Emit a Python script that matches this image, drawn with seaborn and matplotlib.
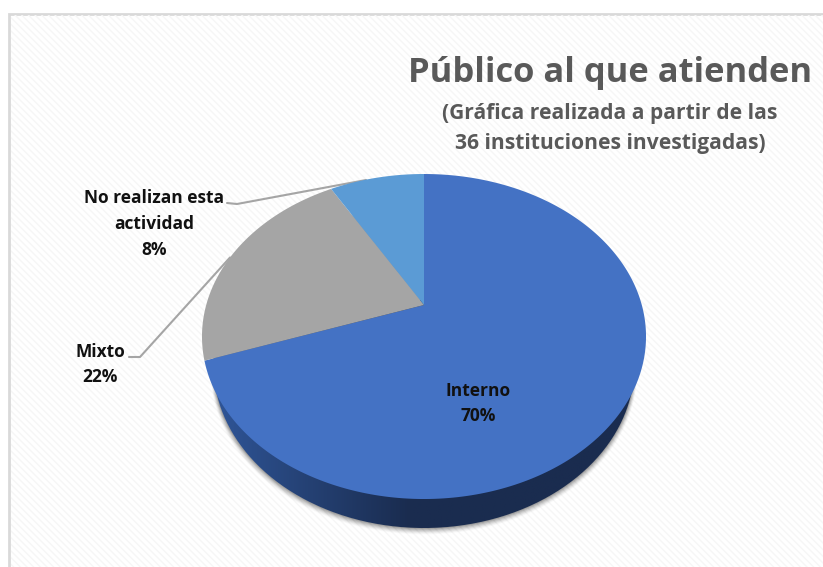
import numpy as np
import matplotlib
matplotlib.use("Agg")
import matplotlib.pyplot as plt
from matplotlib.colors import to_rgb
from matplotlib.path import Path
from matplotlib.patches import Rectangle, PathPatch
from matplotlib.transforms import Transform, Affine2D
import seaborn as sns

categorias = ["Interno", "Mixto", "No realizan esta\nactividad"]
porcentajes = [69.6, 22.1, 8.3]  # slice sizes as measured
etiquetas = [70, 22, 8]  # what the labels print
colores = ["#4472c4", "#a5a5a5", "#5b9bd5"]
titulo = "Público al que atienden"
subtitulo = "(Gráfica realizada a partir de las\n36 instituciones investigadas)"

# pie geometry in pixels
CX, CY = 424, 305
A, B, C = 0.1939, 156.4, 217.8
DEPTH = 29
SHRINK = 0.948


class Perspectiva(Transform):
    """unit disc -> tilted ellipse in pixel coords"""
    input_dims = 2
    output_dims = 2

    def transform_non_affine(self, xy):
        xy = np.asarray(xy, dtype=float)
        w = 1 + A * xy[:, 1]
        return np.column_stack([CX + C * xy[:, 0] / w, CY - B * xy[:, 1] / w])

    def transform_path_non_affine(self, path):
        # scale up first so the curves flatten into many small segments
        fino = path.transformed(Affine2D().scale(2000)).to_polygons(closed_only=False)[0] / 2000
        return Path(self.transform_non_affine(fino))


sns.set_theme(style="white")
plt.rcParams["font.family"] = ["Open Sans", "DejaVu Sans"]
plt.rcParams["hatch.linewidth"] = 1.0

fig = plt.figure(figsize=(8.23, 5.67), dpi=100)
ax = fig.add_axes([0, 0, 1, 1])

wedges, _ = ax.pie(porcentajes, colors=sns.color_palette(colores), startangle=90,
                   counterclock=False, wedgeprops={"linewidth": 0})
ax.set_aspect("auto")
ax.axis("off")

# background panel with the fine diagonal stripes
ax.add_patch(Rectangle((9.5, 13.5), 830, 570, facecolor="white", edgecolor="#d9d9d9",
                       linewidth=2, zorder=0))
ax.add_patch(Rectangle((11, 15), 830, 570, facecolor="none", edgecolor="#f6f6f6",
                       hatch="\\\\\\\\\\", linewidth=0, zorder=0.1))

proy = Perspectiva()
for w in wedges:
    w.set_transform(proy + ax.transData)
    w.set_zorder(5)

# side wall: the whole disc pushed down and a bit narrower, the top covers the rest
t = np.radians(np.linspace(0, 360, 361))
borde = proy.transform_non_affine(np.column_stack([np.cos(t), np.sin(t)]))
abajo = np.column_stack([CX + (borde[:, 0] - CX) * SHRINK, borde[:, 1] + DEPTH])

# soft shadow under the wall
for i, a in zip(range(8, 0, -1), [0.02, 0.03, 0.04, 0.05, 0.06, 0.07, 0.08, 0.10]):
    s = np.column_stack([CX + (abajo[:, 0] - CX) * (1 + i * 0.0016), abajo[:, 1] + i * 0.8])
    ax.add_patch(PathPatch(Path(s), facecolor="black", edgecolor="none", alpha=a, zorder=1))

xs = np.linspace(205, 646, 400)
g = np.interp(xs, [215, 300, 410, 646], [0.0, 0.45, 1.0, 1.0])
claro = np.array(to_rgb("#2f5597"))
oscuro = np.array(to_rgb("#1a2c4f"))
img = claro[None, None, :] * (1 - g[None, :, None]) + oscuro[None, None, :] * g[None, :, None]
im = ax.imshow(img, extent=(205, 646, 540, 300), aspect="auto", zorder=2)
clip = PathPatch(Path(abajo), transform=ax.transData, facecolor="none", edgecolor="none")
ax.add_patch(clip)
im.set_clip_path(clip)

ax.set_xlim(0, 823)
ax.set_ylim(567, 0)

# text
ax.text(610, 72.5, titulo, ha="center", va="center", fontsize=24.8, fontweight="bold",
        color="#595959", zorder=6)
ax.text(610, 128.5, subtitulo, ha="center", va="center", fontsize=15.1, fontweight="bold",
        color="#595959", linespacing=1.58, zorder=6)

kw = dict(ha="center", va="center", fontsize=12.5, fontweight="bold", color="#111111",
          linespacing=1.55, zorder=6)
ax.text(478.5, 403.5, f"{categorias[0]}\n{etiquetas[0]}%", **kw)
ax.text(100, 364.5, f"{categorias[1]}\n{etiquetas[1]}%", **kw)
ax.text(154, 224, f"{categorias[2]}\n{etiquetas[2]}%", **kw)

ax.plot([129, 140, 230], [357, 357, 257.5], color="#a5a5a5", lw=1.5, zorder=4)
ax.plot([227, 237, 366], [203, 204, 180], color="#a5a5a5", lw=1.5, zorder=4)

fig.savefig("out.png", dpi=100)
